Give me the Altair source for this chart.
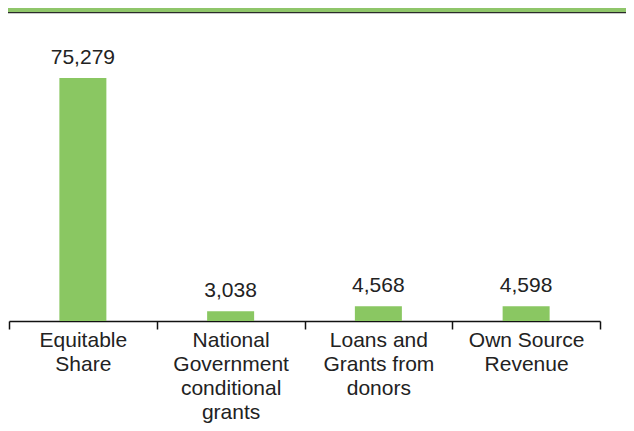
import altair as alt
import pandas as pd

categories = ["Equitable Share", "National Government conditional grants",
              "Loans and Grants from donors", "Own Source Revenue"]
label_lines = [["Equitable", "Share"],
               ["National", "Government", "conditional", "grants"],
               ["Loans and", "Grants from", "donors"],
               ["Own Source", "Revenue"]]
values = [75279, 3038, 4568, 4598]

df = pd.DataFrame({"category": categories, "value": values})

mapping = "{" + ", ".join(
    "'" + c + "': [" + ", ".join("'" + l + "'" for l in ls) + "]"
    for c, ls in zip(categories, label_lines)) + "}"

BAR = "#8AC762"
FONT = "Liberation Sans"

x = alt.X("category:N", sort=categories,
          scale=alt.Scale(paddingInner=0, paddingOuter=0),
          axis=alt.Axis(title=None, labelAngle=0, tickBand="extent", tickSize=8,
                        tickColor="#111", tickWidth=1.5, domainColor="#111",
                        domainWidth=1.5, labelFontSize=21, labelFont=FONT,
                        labelColor="#222", labelLineHeight=24, labelPadding=0,
                        labelBaseline="top", labelOverlap=False, labelLimit=0,
                        labelExpr=mapping + "[datum.label]"))
y = alt.Y("value:Q", scale=alt.Scale(domain=[0, 96960], nice=False), axis=None)

base = alt.Chart(df)
bars = base.mark_bar(color=BAR, width=47).encode(x=x, y=y)
texts = base.mark_text(baseline="alphabetic", dy=-14, fontSize=21, font=FONT,
                       color="#222").encode(
    x=x, y=y, text=alt.Text("value:Q", format=",.0f"))

one = alt.Chart(pd.DataFrame({"a": [0]}))
band = one.mark_rect(color="#8FC66A").encode(
    x=alt.value(-1), x2=alt.value(617), y=alt.value(0), y2=alt.value(4))
line = one.mark_rule(color="#2a2a2a", strokeWidth=1.3).encode(
    x=alt.value(-1), x2=alt.value(617), y=alt.value(4.6))

chart = alt.layer(band, line, bars, texts).properties(
    width=591, height=313,
    autosize=alt.AutoSizeParams(type="none"),
    padding={"left": 1, "top": 0, "right": 26, "bottom": 102},
).configure_view(stroke=None)

chart.save("out.html", embed_options={"renderer": "svg", "actions": False})
